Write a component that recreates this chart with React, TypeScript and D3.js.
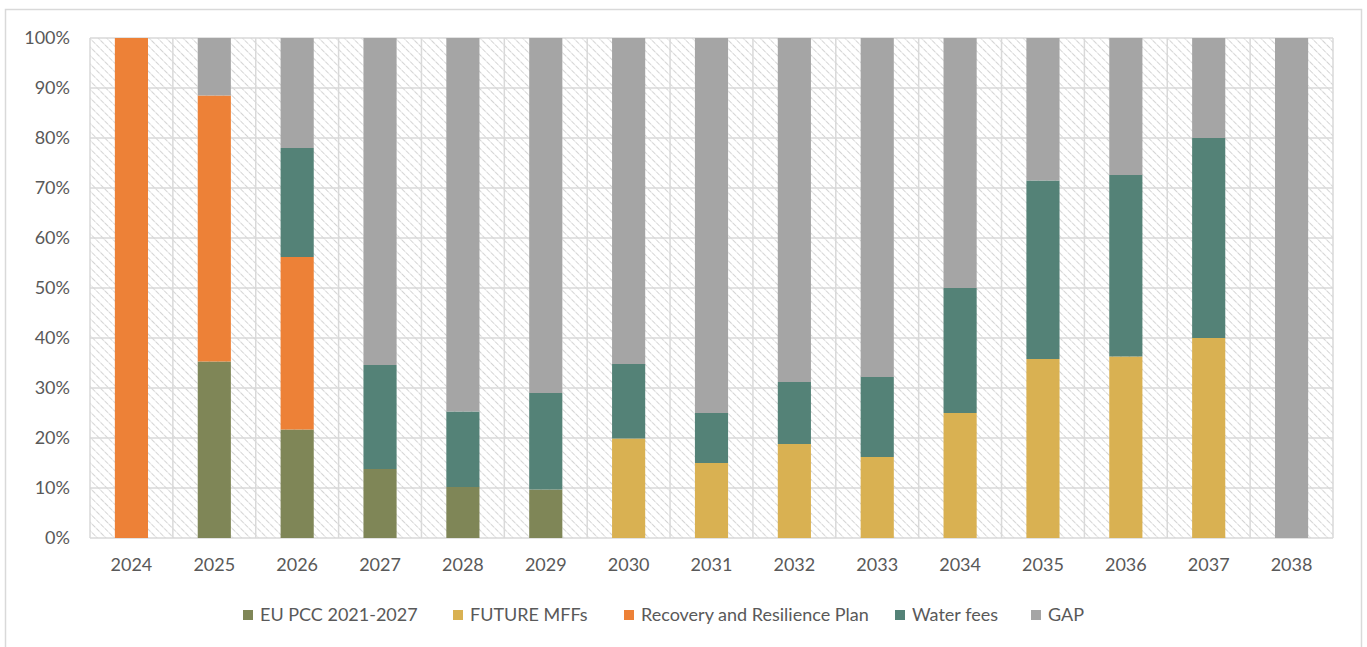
import * as d3 from "d3";

const years = ["2024", "2025", "2026", "2027", "2028", "2029", "2030", "2031", "2032", "2033", "2034", "2035", "2036", "2037", "2038"];
const seriesNames = ["EU PCC 2021-2027", "FUTURE MFFs", "Recovery and Resilience Plan", "Water fees", "GAP"];
const euPcc = [0, 35.3, 21.7, 13.8, 10.2, 9.7, 0, 0, 0, 0, 0, 0, 0, 0, 0];
const futureMffs = [0, 0, 0, 0, 0, 0, 19.9, 15, 18.8, 16.2, 25, 35.8, 36.3, 40, 0];
const recovery = [100, 53.2, 34.5, 0, 0, 0, 0, 0, 0, 0, 0, 0, 0, 0, 0];
const waterFees = [0, 0, 21.8, 20.8, 15.1, 19.3, 14.9, 10, 12.4, 16, 25, 35.7, 36.3, 40, 0];
const gap = [0, 11.5, 22, 65.4, 74.7, 71, 65.2, 75, 68.8, 67.8, 50, 28.5, 27.4, 20, 100];
const yTicks = [0, 10, 20, 30, 40, 50, 60, 70, 80, 90, 100];
const colors = ["#7f8657", "#d9b152", "#ed8137", "#548277", "#a5a5a5"];

const W = 1367;
const H = 647;
const plot = { left: 90, right: 1333, top: 38, bottom: 538 };
const FONT = "Lato, 'Liberation Sans', sans-serif";
const TEXT = "#595959";
const GRID = "#d9d9d9";

const rows = years.map((y, i) => ({
  year: y,
  [seriesNames[0]]: euPcc[i],
  [seriesNames[1]]: futureMffs[i],
  [seriesNames[2]]: recovery[i],
  [seriesNames[3]]: waterFees[i],
  [seriesNames[4]]: gap[i],
}));

const stacked = d3.stack<any>().keys(seriesNames)(rows);

const x = d3.scaleBand<string>().domain(years).range([plot.left, plot.right]).padding(0);
const y = d3.scaleLinear().domain([0, 100]).range([plot.bottom, plot.top]);
const barW = x.bandwidth() * 0.4;

// legend layout (square + label), starting where the reference starts
const legendX = [243, 453, 624, 895, 1031];

export default function App() {
  return (
    <svg width={W} height={H} style={{ position: "absolute", left: 0, top: 0, background: "#fff" }}>
      <defs>
        <pattern id="hatch" width="6" height="6" patternUnits="userSpaceOnUse" patternTransform="rotate(-45)">
          <rect width="6" height="6" fill="#fff" />
          <line x1="0" y1="0" x2="0" y2="6" stroke="#d4d4d4" strokeWidth="2" strokeDasharray="2.5 1" />
        </pattern>
      </defs>
      <rect x={5.5} y={9.5} width={1356} height={H + 10} fill="#fff" stroke={GRID} strokeWidth={1.5} />
      <rect x={plot.left} y={plot.top} width={plot.right - plot.left} height={plot.bottom - plot.top} fill="url(#hatch)" />

      {yTicks.map((t) => (
        <g key={t}>
          <line x1={plot.left} x2={plot.right} y1={y(t)} y2={y(t)} stroke={GRID} strokeWidth={1.5} />
          <text x={70} y={y(t)} dy="0.35em" textAnchor="end" fontFamily={FONT} fontSize={18} fill={TEXT}>
            {t}%
          </text>
        </g>
      ))}
      {years.map((yr) => (
        <line key={"v" + yr} x1={x(yr)} x2={x(yr)} y1={plot.top} y2={plot.bottom} stroke={GRID} strokeWidth={1.5} />
      ))}
      <line x1={plot.right} x2={plot.right} y1={plot.top} y2={plot.bottom} stroke={GRID} strokeWidth={1.5} />

      {stacked.map((s, si) => (
        <g key={s.key} fill={colors[si]}>
          {s.map((d, i) =>
            d[1] - d[0] > 0 ? (
              <rect
                key={i}
                x={(x(years[i]) as number) + (x.bandwidth() - barW) / 2}
                y={y(d[1])}
                width={barW}
                height={y(d[0]) - y(d[1])}
              />
            ) : null
          )}
        </g>
      ))}

      {years.map((yr) => (
        <text key={"t" + yr} x={(x(yr) as number) + x.bandwidth() / 2} y={565} dy="0.35em" textAnchor="middle" fontFamily={FONT} fontSize={18} fill={TEXT}>
          {yr}
        </text>
      ))}

      {seriesNames.map((n, i) => (
        <g key={n} transform={`translate(${legendX[i]},615)`}>
          <rect x={0} y={-5} width={10} height={10} fill={colors[i]} />
          <text x={17} y={0} dy="0.35em" fontFamily={FONT} fontSize={18} fill={TEXT}>
            {n}
          </text>
        </g>
      ))}
    </svg>
  );
}
